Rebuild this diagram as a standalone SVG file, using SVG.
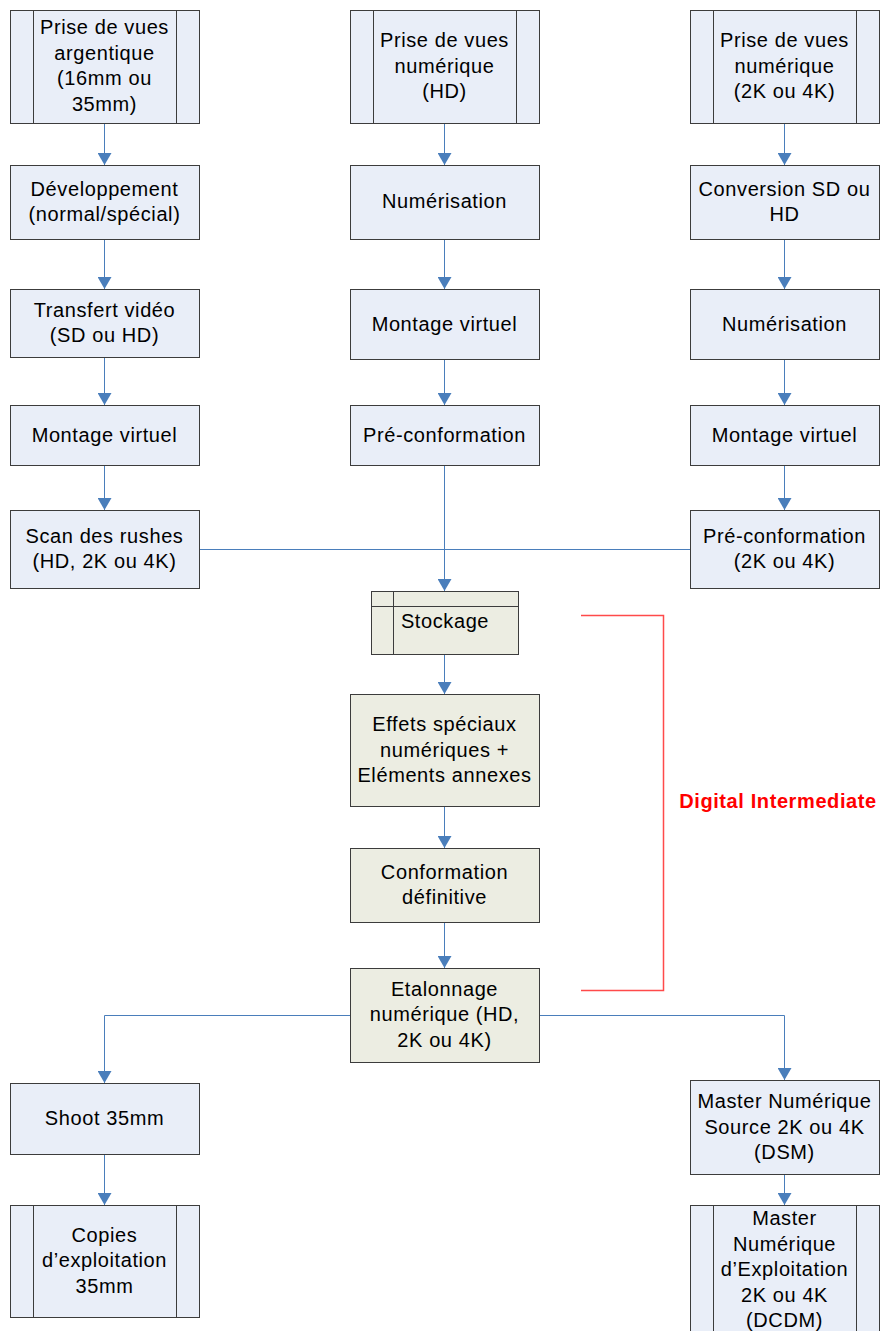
<svg xmlns="http://www.w3.org/2000/svg" width="880" height="1331" viewBox="0 0 880 1331">
<defs>
<style>
.b{fill:#e9eef8;stroke:#3c3c3c;stroke-width:1}
.g{fill:#ecede2;stroke:#3c3c3c;stroke-width:1}
.ln{fill:none;stroke:#3c3c3c;stroke-width:1}
.c{fill:none;stroke:#4a7ebb;stroke-width:1}
.t{font-family:"Liberation Sans",Arial,sans-serif;font-size:20px;letter-spacing:0.6px;fill:#000;text-anchor:middle}
.r{font-family:"Liberation Sans",Arial,sans-serif;font-size:20px;font-weight:bold;letter-spacing:0.6px;fill:#ff0000;text-anchor:middle}
</style>
<marker id="ah" viewBox="0 0 12 14" refX="12" refY="7" markerWidth="12" markerHeight="14" markerUnits="userSpaceOnUse" orient="auto">
<path d="M0,0 L12,7 L0,14 z" fill="#4a7ebb"/>
</marker>
</defs>
<rect width="880" height="1331" fill="#ffffff"/>

<g id="connectors">
<path class="c" d="M104.5,123 V165" marker-end="url(#ah)"/>
<path class="c" d="M104.5,239 V289" marker-end="url(#ah)"/>
<path class="c" d="M104.5,357 V405" marker-end="url(#ah)"/>
<path class="c" d="M104.5,465 V510" marker-end="url(#ah)"/>
<path class="c" d="M444.5,123 V165" marker-end="url(#ah)"/>
<path class="c" d="M444.5,239 V289" marker-end="url(#ah)"/>
<path class="c" d="M444.5,359 V405" marker-end="url(#ah)"/>
<path class="c" d="M784.5,123 V165" marker-end="url(#ah)"/>
<path class="c" d="M784.5,239 V289" marker-end="url(#ah)"/>
<path class="c" d="M784.5,359 V405" marker-end="url(#ah)"/>
<path class="c" d="M784.5,465 V510" marker-end="url(#ah)"/>
<path class="c" d="M199,549.5 H690"/>
<path class="c" d="M444.5,465 V591" marker-end="url(#ah)"/>
<path class="c" d="M444.5,654 V694" marker-end="url(#ah)"/>
<path class="c" d="M444.5,806 V848" marker-end="url(#ah)"/>
<path class="c" d="M444.5,922 V968" marker-end="url(#ah)"/>
<path class="c" d="M350,1015.5 H104.5 V1083" marker-end="url(#ah)"/>
<path class="c" d="M539,1015.5 H784.5 V1080" marker-end="url(#ah)"/>
<path class="c" d="M104.5,1154 V1205" marker-end="url(#ah)"/>
<path class="c" d="M784.5,1174 V1205" marker-end="url(#ah)"/>
</g>

<g id="di-bracket">
<path d="M581,615.5 H663.5 V990.5 H581" fill="none" stroke="#ff4a4a" stroke-width="1.5"/>
<text class="r" x="778" y="808">Digital Intermediate</text>
</g>

<g id="n-argentique">
<rect class="b" x="10.5" y="10.5" width="189" height="113"/>
<path class="ln" d="M33.5,10.5 V123.5 M176.5,10.5 V123.5"/>
<text class="t" x="104.5" y="34">Prise de vues</text>
<text class="t" x="104.5" y="59.5">argentique</text>
<text class="t" x="104.5" y="85">(16mm ou</text>
<text class="t" x="104.5" y="110.5">35mm)</text>
</g>
<g id="n-numerique-hd">
<rect class="b" x="350.5" y="10.5" width="189" height="113"/>
<path class="ln" d="M373.5,10.5 V123.5 M516.5,10.5 V123.5"/>
<text class="t" x="444.5" y="47">Prise de vues</text>
<text class="t" x="444.5" y="72.5">numérique</text>
<text class="t" x="444.5" y="98">(HD)</text>
</g>
<g id="n-numerique-2k4k">
<rect class="b" x="690.5" y="10.5" width="189" height="113"/>
<path class="ln" d="M713.5,10.5 V123.5 M856.5,10.5 V123.5"/>
<text class="t" x="784.5" y="47">Prise de vues</text>
<text class="t" x="784.5" y="72.5">numérique</text>
<text class="t" x="784.5" y="98">(2K ou 4K)</text>
</g>

<g id="n-developpement">
<rect class="b" x="10.5" y="165.5" width="189" height="74"/>
<text class="t" x="104.5" y="195.5">Développement</text>
<text class="t" x="104.5" y="221">(normal/spécial)</text>
</g>
<g id="n-numerisation-c">
<rect class="b" x="350.5" y="165.5" width="189" height="74"/>
<text class="t" x="444.5" y="208">Numérisation</text>
</g>
<g id="n-conversion">
<rect class="b" x="690.5" y="165.5" width="189" height="74"/>
<text class="t" x="784.5" y="195.5">Conversion SD ou</text>
<text class="t" x="784.5" y="221">HD</text>
</g>

<g id="n-transfert">
<rect class="b" x="10.5" y="289.5" width="189" height="68"/>
<text class="t" x="104.5" y="316.5">Transfert vidéo</text>
<text class="t" x="104.5" y="342">(SD ou HD)</text>
</g>
<g id="n-montage-c">
<rect class="b" x="350.5" y="289.5" width="189" height="70"/>
<text class="t" x="444.5" y="330.5">Montage virtuel</text>
</g>
<g id="n-numerisation-r">
<rect class="b" x="690.5" y="289.5" width="189" height="70"/>
<text class="t" x="784.5" y="330.5">Numérisation</text>
</g>

<g id="n-montage-l">
<rect class="b" x="10.5" y="405.5" width="189" height="60"/>
<text class="t" x="104.5" y="441.5">Montage virtuel</text>
</g>
<g id="n-preconf-c">
<rect class="b" x="350.5" y="405.5" width="189" height="60"/>
<text class="t" x="444.5" y="441.5">Pré-conformation</text>
</g>
<g id="n-montage-r">
<rect class="b" x="690.5" y="405.5" width="189" height="60"/>
<text class="t" x="784.5" y="441.5">Montage virtuel</text>
</g>

<g id="n-scan">
<rect class="b" x="10.5" y="510.5" width="189" height="78"/>
<text class="t" x="104.5" y="542.5">Scan des rushes</text>
<text class="t" x="104.5" y="568">(HD, 2K ou 4K)</text>
</g>
<g id="n-preconf-r">
<rect class="b" x="690.5" y="510.5" width="189" height="78"/>
<text class="t" x="784.5" y="542.5">Pré-conformation</text>
<text class="t" x="784.5" y="568">(2K ou 4K)</text>
</g>

<g id="n-stockage">
<rect class="g" x="371.5" y="591.5" width="147" height="63"/>
<path class="ln" d="M393.5,591.5 V654.5 M371.5,606.5 H518.5"/>
<text class="t" x="445" y="628">Stockage</text>
</g>

<g id="n-effets">
<rect class="g" x="350.5" y="694.5" width="189" height="112"/>
<text class="t" x="444.5" y="731">Effets spéciaux</text>
<text class="t" x="444.5" y="756.5">numériques +</text>
<text class="t" x="444.5" y="782">Eléments annexes</text>
</g>
<g id="n-conformation">
<rect class="g" x="350.5" y="848.5" width="189" height="74"/>
<text class="t" x="444.5" y="878.5">Conformation</text>
<text class="t" x="444.5" y="904">définitive</text>
</g>
<g id="n-etalonnage">
<rect class="g" x="350.5" y="968.5" width="189" height="94"/>
<text class="t" x="444.5" y="995.5">Etalonnage</text>
<text class="t" x="444.5" y="1021">numérique (HD,</text>
<text class="t" x="444.5" y="1046.5">2K ou 4K)</text>
</g>

<g id="n-shoot">
<rect class="b" x="10.5" y="1083.5" width="189" height="71"/>
<text class="t" x="104.5" y="1125">Shoot 35mm</text>
</g>
<g id="n-copies">
<rect class="b" x="10.5" y="1205.5" width="189" height="112"/>
<path class="ln" d="M33.5,1205.5 V1317.5 M176.5,1205.5 V1317.5"/>
<text class="t" x="104.5" y="1241.5">Copies</text>
<text class="t" x="104.5" y="1267">d’exploitation</text>
<text class="t" x="104.5" y="1292.5">35mm</text>
</g>
<g id="n-dsm">
<rect class="b" x="690.5" y="1080.5" width="189" height="94"/>
<text class="t" x="784.5" y="1108">Master Numérique</text>
<text class="t" x="784.5" y="1133.5">Source 2K ou 4K</text>
<text class="t" x="784.5" y="1159">(DSM)</text>
</g>
<g id="n-dcdm">
<rect class="b" x="690.5" y="1205.5" width="189" height="140"/>
<path class="ln" d="M713.5,1205.5 V1345 M856.5,1205.5 V1345"/>
<text class="t" x="784.5" y="1225">Master</text>
<text class="t" x="784.5" y="1250.5">Numérique</text>
<text class="t" x="784.5" y="1276">d’Exploitation</text>
<text class="t" x="784.5" y="1301.5">2K ou 4K</text>
<text class="t" x="784.5" y="1327">(DCDM)</text>
</g>
</svg>
